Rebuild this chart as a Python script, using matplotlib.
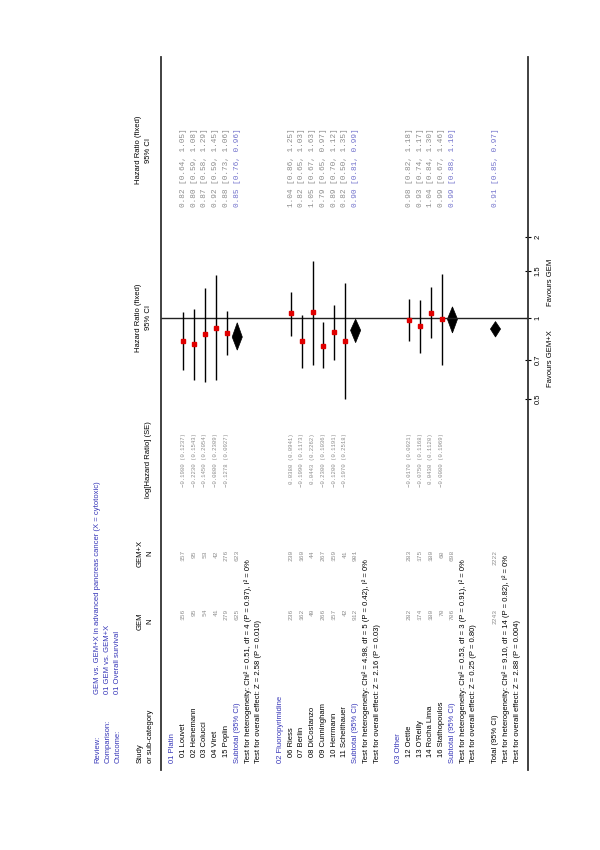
import matplotlib.pyplot as plt
import matplotlib.transforms as mtransforms
from matplotlib.patches import Polygon
import numpy as np

review = "GEM vs. GEM+X in advanced pancreas cancer (X = cytotoxic)"
comparison = "01 GEM vs. GEM+X"
outcome = "01 Overall survival"

groups = ["01 Platin", "02 Fluoropyrimidine", "03 Other"]
studies = [
    ["01 Louvet", "02 Heinemann", "03 Colucci", "04 Viret", "15 Poplin"],
    ["06 Riess", "07 Berlin", "08 DiCostanzo", "09 Cunningham", "10 Herrmann", "11 Scheithauer"],
    ["12 Oettle", "13 O'Reilly", "14 Rocha Lima", "16 Stathopoulos"],
]
n_gem = [[156, 95, 54, 41, 279], [236, 162, 49, 266, 157, 42], [282, 174, 180, 70]]
n_gemx = [[157, 95, 53, 42, 276], [230, 160, 44, 267, 159, 41], [283, 175, 180, 60]]
log_hr = [[-0.1980, -0.2230, -0.1450, -0.0800, -0.1278],
          [0.0380, -0.1990, 0.0443, -0.2300, -0.1200, -0.1970],
          [-0.0170, -0.0750, 0.0430, -0.0080]]
se = [[0.1237, 0.1543, 0.2054, 0.2309, 0.0927],
      [0.0941, 0.1173, 0.2262, 0.1036, 0.1191, 0.2518],
      [0.0921, 0.1168, 0.1120, 0.1969]]
hr = [[0.82, 0.80, 0.87, 0.92, 0.88], [1.04, 0.82, 1.05, 0.79, 0.89, 0.82], [0.98, 0.93, 1.04, 0.99]]
hr_lo = [[0.64, 0.59, 0.58, 0.59, 0.73], [0.86, 0.65, 0.67, 0.65, 0.70, 0.50], [0.82, 0.74, 0.84, 0.67]]
hr_hi = [[1.05, 1.08, 1.29, 1.45, 1.06], [1.25, 1.03, 1.63, 0.97, 1.12, 1.35], [1.18, 1.17, 1.30, 1.46]]

sub_n_gem = [625, 912, 706]
sub_n_gemx = [623, 901, 698]
sub_hr = [0.85, 0.90, 0.99]
sub_lo = [0.76, 0.81, 0.88]
sub_hi = [0.96, 0.99, 1.10]
sub_het = ["Chi² = 0.51, df = 4 (P = 0.97), I² = 0%",
           "Chi² = 4.98, df = 5 (P = 0.42), I² = 0%",
           "Chi² = 0.53, df = 3 (P = 0.91), I² = 0%"]
sub_z = ["Z = 2.58 (P = 0.010)", "Z = 2.16 (P = 0.03)", "Z = 0.25 (P = 0.80)"]

total_n_gem = 2243
total_n_gemx = 2222
total_hr = 0.91
total_lo = 0.85
total_hi = 0.97
total_het = "Chi² = 9.10, df = 14 (P = 0.82), I² = 0%"
total_z = "Z = 2.88 (P = 0.004)"

hr_ticks = [0.5, 0.7, 1, 1.5, 2]
hr_ticklabels = ["0.5", "0.7", "1", "1.5", "2"]

BLUE = "#3535b8"
GREY = "#8c8c8c"
LBLUE = "#7272cc"
SANS = "Liberation Sans"
MONO = "Liberation Mono"
FS = 5.5

# page layout in pixels (image is the page turned 90 degrees)
ROW0, ROWH = 172.7, 10.76
RULE_TOP, RULE_BOT = 161, 528
Y_TOP, Y_BOT = 57, 770
Y_ONE, PX_PER_LN = 318, 117


def rowx(r):
    return ROW0 + r * ROWH


fig = plt.figure(figsize=(6, 8.5), dpi=100)
page = fig.add_axes([0, 0, 1, 1])
page.set_xlim(0, 600)
page.set_ylim(850, 0)
page.axis("off")


def vtext(x, y, s, ha="left", color="black", family=SANS, size=FS):
    page.text(x, y, s, rotation=90, rotation_mode="anchor", ha=ha, va="center",
              color=color, family=family, fontsize=size)


# header block
for x, lab, val in [(97.7, "Review:", review), (107.7, "Comparison:", comparison),
                    (117.7, "Outcome:", outcome)]:
    vtext(x, 763, lab, color=BLUE)
    vtext(x, 694, val, color=BLUE)

vtext(140, 763, "Study")
vtext(150, 763, "or sub-category")
vtext(140, 621, "GEM", ha="center")
vtext(150, 621, "N", ha="center")
vtext(140, 553, "GEM+X", ha="center")
vtext(150, 553, "N", ha="center")
vtext(149, 460, "log[Hazard Ratio] (SE)", ha="center")
vtext(139, 150, "Hazard Ratio (fixed)", ha="center")
vtext(149, 150, "95% CI", ha="center")

# forest axes
ax = fig.add_axes([RULE_TOP / 600, 1 - Y_BOT / 850,
                   (RULE_BOT - RULE_TOP) / 600, (Y_BOT - Y_TOP) / 850])
ax.patch.set_alpha(0)
ax.set_xlim((RULE_TOP - ROW0) / ROWH, (RULE_BOT - ROW0) / ROWH)
ax.set_yscale("log")
ax.set_ylim(np.exp(-(Y_BOT - Y_ONE) / PX_PER_LN), np.exp((Y_ONE - Y_TOP) / PX_PER_LN))
for side in ["top", "bottom"]:
    ax.spines[side].set_visible(False)
for side in ["left", "right"]:
    ax.spines[side].set_color("#333333")
    ax.spines[side].set_linewidth(1.3)
ax.set_xticks([])
ax.yaxis.tick_right()
ax.yaxis.set_minor_locator(plt.NullLocator())
ax.set_yticks(hr_ticks)
ax.set_yticklabels(hr_ticklabels, rotation=90, va="center", family=SANS, fontsize=FS)
ax.tick_params(axis="y", direction="inout", length=4, width=0.8, pad=3)
ax.axhline(1, color="#222222", lw=1.0)

blend = mtransforms.blended_transform_factory(ax.transAxes, ax.transData)
fav_x = (550 - RULE_TOP) / (RULE_BOT - RULE_TOP)
ax.annotate("Favours GEM+X", xy=(fav_x, 1), xycoords=blend, xytext=(0, -9),
            textcoords="offset points", rotation=90, rotation_mode="anchor",
            ha="right", va="center", family=SANS, fontsize=FS, annotation_clip=False)
ax.annotate("Favours GEM", xy=(fav_x, 1), xycoords=blend, xytext=(0, 9),
            textcoords="offset points", rotation=90, rotation_mode="anchor",
            ha="left", va="center", family=SANS, fontsize=FS, annotation_clip=False)
hdr_x = (139 - RULE_TOP) / (RULE_BOT - RULE_TOP)
for dx, s in [(0, "Hazard Ratio (fixed)"), (10, "95% CI")]:
    ax.annotate(s, xy=(hdr_x + dx / (RULE_BOT - RULE_TOP), 1), xycoords=blend,
                rotation=90, rotation_mode="anchor", ha="center", va="center",
                family=SANS, fontsize=FS, annotation_clip=False)


def diamond(r, est, lo, hi):
    h = 0.47
    ax.add_patch(Polygon([(r, lo), (r - h, est), (r, hi), (r + h, est)],
                         closed=True, facecolor="black", edgecolor="black", lw=0.5))


r = 0
for g in range(len(groups)):
    vtext(rowx(r), 763, groups[g], color=BLUE)
    r += 1
    for i, name in enumerate(studies[g]):
        x = rowx(r)
        vtext(x, 757, name)
        vtext(x, 609, str(n_gem[g][i]), ha="right", color=GREY, family=MONO, size=4.5)
        vtext(x, 550, str(n_gemx[g][i]), ha="right", color=GREY, family=MONO, size=4.5)
        vtext(x, 433, f"{log_hr[g][i]:.4f} ({se[g][i]:.4f})".replace("-", "\u2212"),
              ha="right", color=GREY, family=MONO, size=4.1)
        vtext(x, 207, f"{hr[g][i]:.2f} [{hr_lo[g][i]:.2f}, {hr_hi[g][i]:.2f}]",
              color=GREY, family=MONO, size=5.6)
        ax.plot([r, r], [hr_lo[g][i], hr_hi[g][i]], color="black", lw=1.0, solid_capstyle="butt")
        ax.plot(r, hr[g][i], marker="s", ms=3.5, color="#e00000", mec="#e00000")
        r += 1
    x = rowx(r)
    vtext(x, 763, "Subtotal (95% CI)", color=BLUE)
    vtext(x, 609, str(sub_n_gem[g]), ha="right", color=GREY, family=MONO, size=4.5)
    vtext(x, 550, str(sub_n_gemx[g]), ha="right", color=GREY, family=MONO, size=4.5)
    vtext(x, 207, f"{sub_hr[g]:.2f} [{sub_lo[g]:.2f}, {sub_hi[g]:.2f}]",
          color=LBLUE, family=MONO, size=5.6)
    diamond(r, sub_hr[g], sub_lo[g], sub_hi[g])
    r += 1
    vtext(rowx(r), 763, "Test for heterogeneity: " + sub_het[g])
    r += 1
    vtext(rowx(r), 763, "Test for overall effect: " + sub_z[g])
    r += 2

x = rowx(r)
vtext(x, 763, "Total (95% CI)")
vtext(x, 609, str(total_n_gem), ha="right", color=GREY, family=MONO, size=4.5)
vtext(x, 550, str(total_n_gemx), ha="right", color=GREY, family=MONO, size=4.5)
vtext(x, 207, f"{total_hr:.2f} [{total_lo:.2f}, {total_hi:.2f}]",
      color=LBLUE, family=MONO, size=5.6)
diamond(r, total_hr, total_lo, total_hi)
vtext(rowx(r + 1), 763, "Test for heterogeneity: " + total_het)
vtext(rowx(r + 2), 763, "Test for overall effect: " + total_z)

fig.savefig("out.png", dpi=100)
